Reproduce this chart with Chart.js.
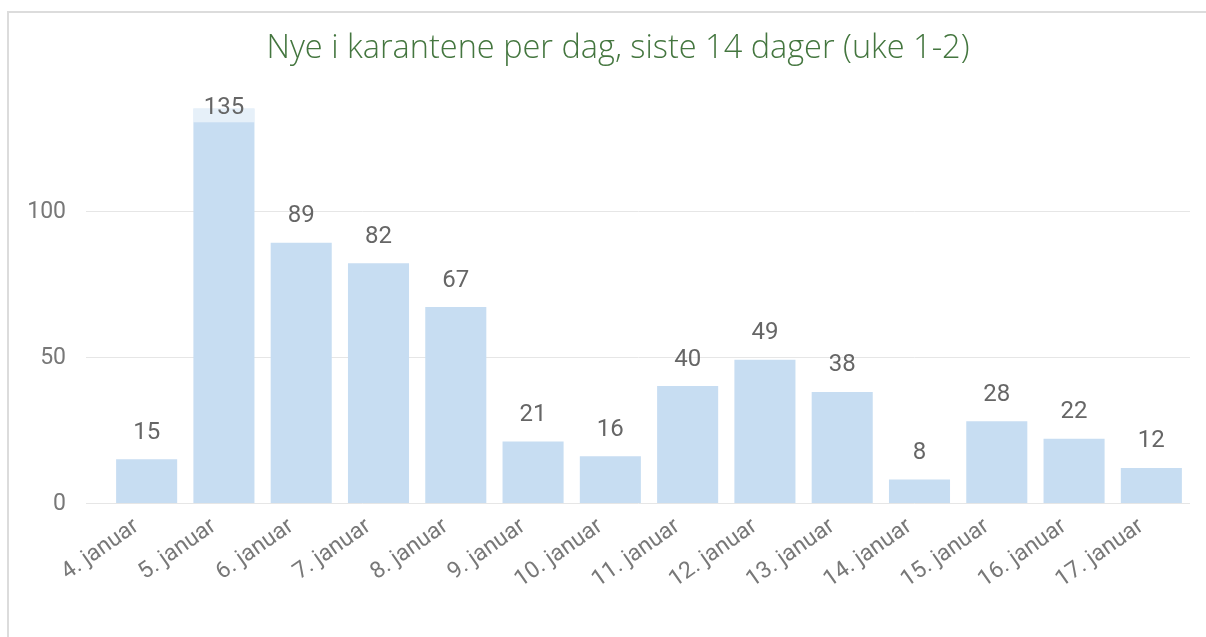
<!DOCTYPE html>
<html>
<head>
<meta charset="utf-8">
<script src="https://cdn.jsdelivr.net/npm/chart.js@4"></script>
<style>
    html, body { margin: 0; padding: 0; background: #fff; overflow: hidden; }
    #ramme { position: absolute; left: 7px; top: 11px; width: 1300px; height: 700px;
             border-left: 2px solid #dcdcdc; border-top: 2px solid #dcdcdc; }
    #boks { position: absolute; left: 9px; top: 13px; width: 1181px; height: 624px; }
</style>
</head>
<body>
<div id="ramme"></div>
<div id="boks"><canvas id="diagram"></canvas></div>
<script>
"use strict"

// Datoer (x-akse)
let dager = ["4. januar", "5. januar", "6. januar", "7. januar", "8. januar", "9. januar", "10. januar",
    "11. januar", "12. januar", "13. januar", "14. januar", "15. januar", "16. januar", "17. januar"]

// Nye i karantene per dag
let antall = [15, 135, 89, 82, 67, 21, 16, 40, 49, 38, 8, 28, 22, 12]

// Verdier på y-aksen
let yVerdier = [0, 50, 100]

let tittel = "Nye i karantene per dag, siste 14 dager (uke 1-2)"

// rutenett + y-etiketter (tegnes selv så de ikke klippes)
const rutenett = {
    id: "rutenett",
    beforeDatasetsDraw(chart) {
        const ctx = chart.ctx
        const area = chart.chartArea
        const y = chart.scales.y
        ctx.save()
        ctx.strokeStyle = "#e6e6e6"
        ctx.lineWidth = 1
        ctx.fillStyle = "#787878"
        ctx.font = "23px Roboto"
        ctx.textAlign = "right"
        ctx.textBaseline = "middle"
        y.ticks.forEach(t => {
            const py = Math.round(y.getPixelForValue(t.value)) + 0.5
            ctx.beginPath()
            ctx.moveTo(area.left - 22, py)
            ctx.lineTo(area.right + 8, py)
            ctx.stroke()
            ctx.fillText(t.value, area.left - 42, py + 1)
        })
        ctx.restore()
    }
}

// tall over stolpene
const verdiEtiketter = {
    id: "verdiEtiketter",
    afterDatasetsDraw(chart) {
        const ctx = chart.ctx
        const area = chart.chartArea
        const meta = chart.getDatasetMeta(0)
        ctx.save()
        ctx.font = "24px Roboto"
        ctx.textAlign = "center"
        ctx.textBaseline = "middle"
        meta.data.forEach((bar, i) => {
            let ty = bar.y - 26.5
            if (ty - 11 < area.top) { // får ikke plass, legg inni stolpen
                ty = area.top
                ctx.fillStyle = "rgba(255,255,255,0.55)"
                ctx.fillRect(bar.x - bar.width / 2, area.top, bar.width, 14)
            }
            ctx.fillStyle = "#666666"
            ctx.fillText(antall[i], bar.x, ty)
        })
        ctx.restore()
    }
}

new Chart(document.getElementById("diagram"), {
    type: "bar",
    data: {
        labels: dager,
        datasets: [{
            label: "Nye i karantene",
            data: antall,
            backgroundColor: "#c7ddf2",
            borderWidth: 0,
            categoryPercentage: 1,
            barPercentage: 0.79
        }]
    },
    options: {
        responsive: true,
        maintainAspectRatio: false,
        animation: false,
        layout: { padding: { left: 37, right: 0, top: 0, bottom: 0 } },
        plugins: {
            legend: { display: false },
            tooltip: { enabled: false },
            title: {
                display: true,
                text: tittel,
                color: "#44763f",
                font: { family: "'Open Sans'", size: 32.5, weight: "300" },
                padding: { top: 16, bottom: 40.3 }
            }
        },
        scales: {
            x: {
                grid: { display: false },
                border: { display: false },
                ticks: {
                    color: "#787878",
                    font: { family: "Roboto", size: 23 },
                    minRotation: 35,
                    maxRotation: 35,
                    labelOffset: -10,
                    padding: 2
                },
                afterFit(scale) { scale.height = 134 }
            },
            y: {
                min: 0,
                max: 135,
                grid: { display: false },
                border: { display: false },
                ticks: { display: false, stepSize: 50 },
                afterBuildTicks(scale) {
                    scale.ticks = yVerdier.map(v => ({ value: v }))
                },
                afterFit(scale) { scale.width = 62 }
            }
        }
    },
    plugins: [rutenett, verdiEtiketter]
})
</script>
</body>
</html>
